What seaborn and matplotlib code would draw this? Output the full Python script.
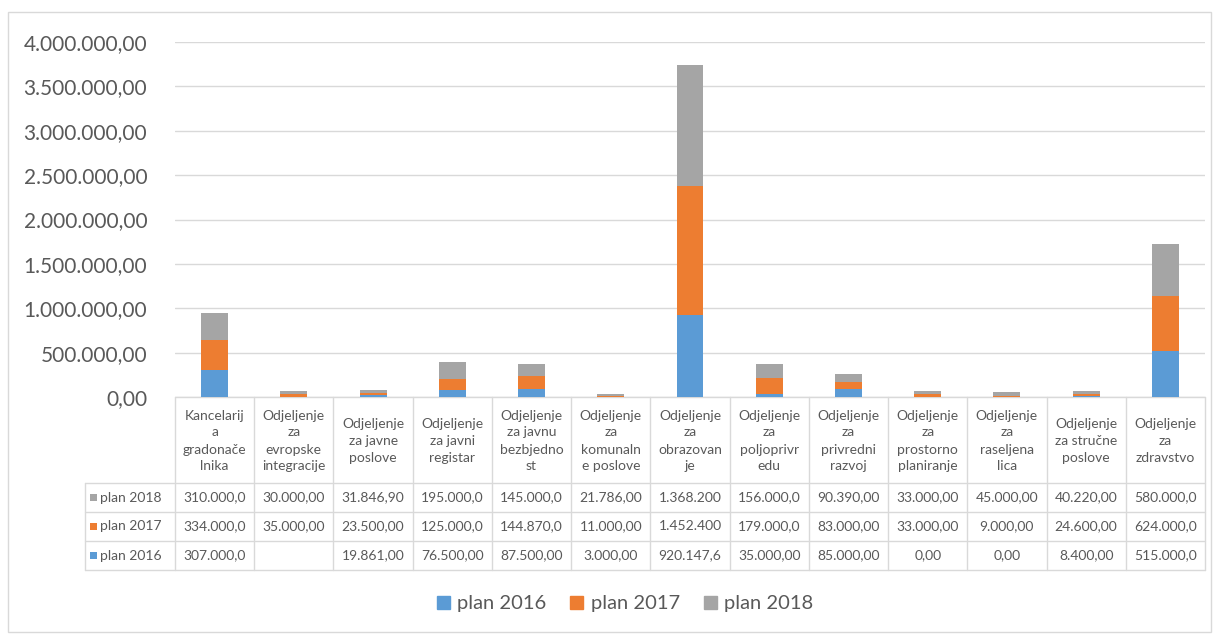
import matplotlib
matplotlib.use("Agg")
import matplotlib.pyplot as plt
import matplotlib.ticker as mticker
from matplotlib.patches import Rectangle, Patch
import seaborn as sns
import numpy as np
import pandas as pd

categories = [
    "Kancelarij\na\ngradonače\nlnika",
    "Odjeljenje\nza\nevropske\nintegracije",
    "Odjeljenje\nza javne\nposlove",
    "Odjeljenje\nza javni\nregistar",
    "Odjeljenje\nza javnu\nbezbjedno\nst",
    "Odjeljenje\nza\nkomunaln\ne poslove",
    "Odjeljenje\nza\nobrazovan\nje",
    "Odjeljenje\nza\npoljoprivr\nedu",
    "Odjeljenje\nza\nprivredni\nrazvoj",
    "Odjeljenje\nza\nprostorno\nplaniranje",
    "Odjeljenje\nza\nraseljena\nlica",
    "Odjeljenje\nza stručne\nposlove",
    "Odjeljenje\nza\nzdravstvo",
]
plan_2016 = [307000, None, 19861, 76500, 87500, 3000, 920147.6, 35000, 85000, 0, 0, 8400, 515000]
plan_2017 = [334000, 35000, 23500, 125000, 144870, 11000, 1452400, 179000, 83000, 33000, 9000, 24600, 624000]
plan_2018 = [310000, 30000, 31846.9, 195000, 145000, 21786, 1368200, 156000, 90390, 33000, 45000, 40220, 580000]
series_names = ["plan 2016", "plan 2017", "plan 2018"]
colors = ["#5B9BD5", "#ED7D31", "#A5A5A5"]
y_ticks = [0, 500000, 1000000, 1500000, 2000000, 2500000, 3000000, 3500000, 4000000]

FONT = ["Lato", "DejaVu Sans"]
TXT = "#595959"
GRID = "#D9D9D9"

sns.set_theme(style="white")
plt.rcParams["font.family"] = FONT

W, H = 1217, 637
fig = plt.figure(figsize=(W / 100, H / 100), dpi=100)

# overlay axes in pixel coordinates (table, border)
ov = fig.add_axes([0, 0, 1, 1])
ov.set_xlim(0, W)
ov.set_ylim(H, 0)
ov.axis("off")
ov.patch.set_alpha(0)

# main plot area
x0, x1 = 175, 1205
y_top, y_zero = 42, 397
ax = fig.add_axes([x0 / W, 1 - y_zero / H, (x1 - x0) / W, (y_zero - y_top) / H])
ax.patch.set_alpha(0)

df = pd.DataFrame({"cat": categories,
                   "p16": [v if v is not None else 0 for v in plan_2016],
                   "p17": plan_2017, "p18": plan_2018})
cum16 = df["p16"]
cum17 = cum16 + df["p17"]
cum18 = cum17 + df["p18"]
for cum, c in zip([cum18, cum17, cum16], colors[::-1]):
    sns.barplot(x=df["cat"], y=cum, color=c, width=0.34, ax=ax, saturation=1,
                zorder=3, linewidth=0, edgecolor="none")

ax.set_xlim(-0.5, len(categories) - 0.5)
ax.set_ylim(0, 4000000)
ax.set_yticks(y_ticks)
ax.yaxis.set_major_formatter(mticker.FuncFormatter(
    lambda v, p: f"{v:,.2f}".replace(",", "X").replace(".", ",").replace("X", ".")))
ax.tick_params(axis="y", labelsize=15, labelcolor=TXT, length=0, pad=20)
ax.set_xticks([])
ax.set_xlabel("")
ax.set_ylabel("")
ax.grid(axis="y", color=GRID, lw=1, zorder=0)
for s in ax.spines.values():
    s.set_visible(False)

# outer chart border
ov.add_patch(Rectangle((8, 12), 1203, 620, fill=False, ec=GRID, lw=1))

# data table
colw = (x1 - x0) / len(categories)
row_y = [397, 483, 512, 541, 570]
lab_x0 = 85

def fmt(v):
    if v is None:
        return ""
    s = f"{v:,.2f}".replace(",", "X").replace(".", ",").replace("X", ".")
    return s[:9]

ov.plot([x0, x1], [row_y[0], row_y[0]], color=GRID, lw=1)
for yy in row_y[1:]:
    ov.plot([lab_x0, x1], [yy, yy], color=GRID, lw=1)
for i in range(len(categories) + 1):
    xx = x0 + i * colw
    ov.plot([xx, xx], [row_y[0], row_y[-1]], color=GRID, lw=1)
ov.plot([lab_x0, lab_x0], [row_y[1], row_y[-1]], color=GRID, lw=1)

for i, cat in enumerate(categories):
    cx = x0 + (i + 0.5) * colw
    ov.text(cx, (row_y[0] + row_y[1]) / 2 + 1, cat, ha="center", va="center",
            fontsize=10, color=TXT, linespacing=1.5, multialignment="center")

rows = [(series_names[2], plan_2018, colors[2]),
        (series_names[1], plan_2017, colors[1]),
        (series_names[0], plan_2016, colors[0])]
for r, (name, vals, c) in enumerate(rows):
    cy = (row_y[r + 1] + row_y[r + 2]) / 2
    ov.add_patch(Rectangle((90, cy - 3.5), 7, 7, color=c, lw=0))
    ov.text(100, cy, name, ha="left", va="center", fontsize=10, color=TXT)
    for i, v in enumerate(vals):
        cx = x0 + (i + 0.5) * colw
        ov.text(cx, cy, fmt(v), ha="center", va="center", fontsize=10, color=TXT)

# legend
handles = [Patch(color=c, label=n) for c, n in zip(colors, series_names)]
fig.legend(handles=handles, loc="center", bbox_to_anchor=(625 / W, 1 - 604 / H),
           ncol=3, frameon=False, fontsize=14.5, labelcolor=TXT,
           handlelength=0.65, handleheight=0.65, handletextpad=0.35, columnspacing=1.2)

fig.savefig("out.png", dpi=100)
